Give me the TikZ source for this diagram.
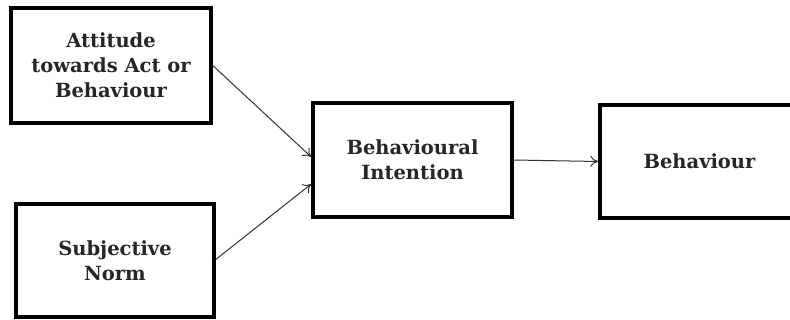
\documentclass[tikz,border=0pt]{standalone}
\usepackage{fontspec}
\setmainfont{DejaVu Serif}
\usetikzlibrary{arrows.meta}
\begin{document}
\begin{tikzpicture}[x=1pt,y=-1pt,
  box/.style={draw=black, line width=3.5pt, align=center, inner sep=0pt,
    font=\fontsize{19.5}{25}\selectfont\bfseries, text=black!85},
  conn/.style={line width=1pt, draw=black!80, -{To[length=8pt,width=11pt,line width=1pt]}}]
\useasboundingbox (0,0) rectangle (790,320);
\clip (0,0) rectangle (790,320);
\node[box, minimum width=200pt, minimum height=115pt] (att) at (111,65.5) {Attitude\\towards Act or\\Behaviour};
\node[box, minimum width=198pt, minimum height=113pt] (sub) at (115,260.5) {Subjective\\Norm};
\node[box, minimum width=199pt, minimum height=114pt] (int) at (412.5,160) {Behavioural\\Intention};
\node[box, minimum width=195pt, minimum height=113pt] (beh) at (697.5,161.5) {\hspace*{4pt}Behaviour};
\draw[conn] (att.east) -- ([yshift=3pt]int.west);
\draw[conn] ([yshift=1pt]sub.east) -- ([yshift=-24pt]int.west);
\draw[conn] (int.east) -- (beh.west);
\end{tikzpicture}
\end{document}
